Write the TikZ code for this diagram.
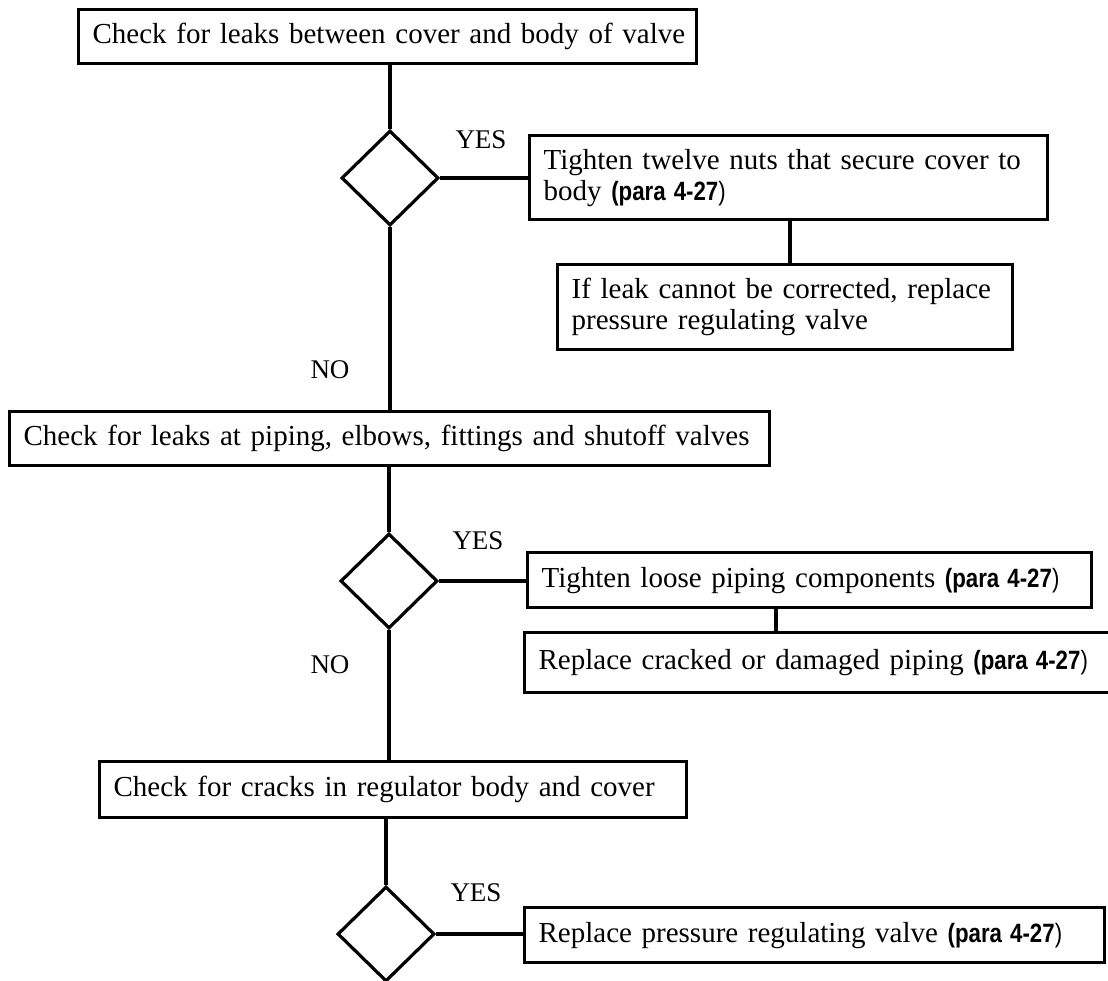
\documentclass[tikz,border=0pt]{standalone}
\usepackage{fontspec}
\usepackage{graphicx}
\setmainfont{Liberation Serif}
\setsansfont{Liberation Sans}
\usetikzlibrary{shapes.geometric,calc}
\newcommand\pararef{\scalebox{0.84}[1]{\sffamily\fontsize{26.5}{28}\selectfont{\bfseries (para 4-27})}}
\tikzset{
  stepbox/.style={draw, line width=3.2pt, anchor=north west, align=left,
    inner xsep=14pt, inner ysep=0pt, font=\fontsize{29}{31}\selectfont},
  decision/.style={draw, diamond, line width=3.2pt, inner sep=0pt,
    minimum width=97pt, minimum height=95pt},
  conn/.style={line width=3.2pt},
  lbl/.style={font=\fontsize{27}{28}\selectfont, inner sep=0pt}
}
\begin{document}
\begin{tikzpicture}[x=1pt,y=-1pt]
\useasboundingbox (0,0) rectangle (1108,981);
\fill[white] (0,0) rectangle (1108,981);
\clip (0,0) rectangle (1108,981);

\node[stepbox, text width=590pt, minimum height=54pt] (b1) at (77,8)
  {\mbox{Check for leaks between cover and body of valve}};
\node[decision] (d1) at (390,178) {};
\node[stepbox, text width=490pt, minimum height=84pt] (b2) at (528,134)
  {\mbox{Tighten twelve nuts that secure cover to}\\ \mbox{body \pararef}};
\node[stepbox, text width=427pt, minimum height=85pt] (b3) at (556,263)
  {\mbox{If leak cannot be corrected, replace}\\ \mbox{pressure regulating valve}};
\node[stepbox, text width=732pt, minimum height=54pt] (b4) at (8,410)
  {\mbox{Check for leaks at piping, elbows, fittings and shutoff valves}};
\node[decision] (d2) at (389,581) {};
\node[stepbox, text width=536pt, minimum height=55pt] (b5) at (526,551)
  {\mbox{Tighten loose piping components \pararef}};
\node[stepbox, text width=592pt, minimum height=60pt] (b6) at (523,631)
  {\mbox{Replace cracked or damaged piping \pararef}};
\node[stepbox, text width=559pt, minimum height=56pt] (b7) at (98,760)
  {\mbox{Check for cracks in regulator body and cover}};
\node[decision] (d3) at (386,934) {};
\node[stepbox, text width=552pt, minimum height=55pt] (b8) at (523,906)
  {\mbox{Replace pressure regulating valve \pararef}};

\node[lbl] (y1) at (481,140) {YES};
\node[lbl] (n1) at (330,370) {NO};
\node[lbl] (y2) at (478,541) {YES};
\node[lbl] (n2) at (330,665) {NO};
\node[lbl] (y3) at (476,893) {YES};

\draw[conn] (d1.north |- b1.south) -- (d1.north);
\draw[conn] (d1.east) -- (d1.east -| b2.west);
\draw[conn] ([xshift=262pt]b2.south west) -- ([xshift=234pt]b3.north west);
\draw[conn] (d1.south) -- (d1.south |- b4.north);
\draw[conn] (d2.north |- b4.south) -- (d2.north);
\draw[conn] (d2.east) -- (d2.east -| b5.west);
\draw[conn] ([xshift=250pt]b5.south west) -- ([xshift=253pt]b6.north west);
\draw[conn] (d2.south) -- (d2.south |- b7.north);
\draw[conn] (d3.north |- b7.south) -- (d3.north);
\draw[conn] (d3.east) -- (d3.east -| b8.west);
\end{tikzpicture}
\end{document}
